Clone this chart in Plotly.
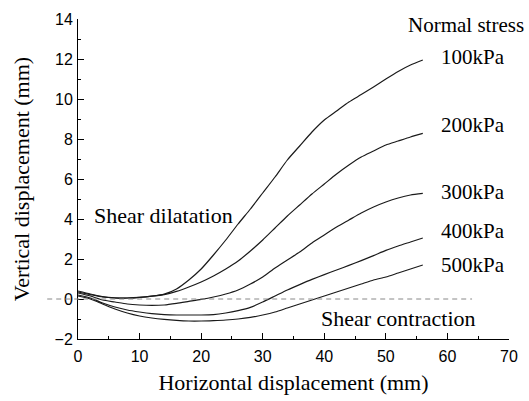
import plotly.graph_objects as go

# Horizontal displacement (mm) at which vertical displacement was sampled
x_mm = [0, 2, 4, 6, 8, 10, 12, 14, 16, 18, 20, 22, 24, 26, 28,
        30, 32, 34, 36, 38, 40, 42, 44, 46, 48, 50, 52, 54, 56]

# Vertical displacement (mm) for each normal stress
v_100 = [0.40, 0.25, 0.12, 0.06, 0.05, 0.08, 0.14, 0.24, 0.50, 0.95, 1.50, 2.20, 2.95, 3.75, 4.50,
         5.30, 6.10, 6.95, 7.65, 8.35, 8.95, 9.40, 9.85, 10.22, 10.60, 11.00, 11.38, 11.70, 11.95]
v_200 = [0.35, 0.22, 0.10, 0.05, 0.05, 0.08, 0.14, 0.22, 0.38, 0.60, 0.85, 1.15, 1.50, 1.90, 2.40,
         2.95, 3.55, 4.15, 4.70, 5.25, 5.75, 6.25, 6.70, 7.10, 7.40, 7.70, 7.90, 8.10, 8.28]
v_300 = [0.30, 0.15, -0.05, -0.15, -0.25, -0.30, -0.32, -0.30, -0.22, -0.12, -0.02, 0.10, 0.25, 0.45, 0.75,
         1.10, 1.55, 1.95, 2.35, 2.80, 3.20, 3.60, 3.95, 4.30, 4.60, 4.85, 5.05, 5.20, 5.28]
v_400 = [0.20, 0.05, -0.20, -0.40, -0.55, -0.65, -0.73, -0.78, -0.80, -0.80, -0.80, -0.78, -0.70, -0.58, -0.42,
         -0.15, 0.15, 0.45, 0.72, 0.98, 1.22, 1.45, 1.68, 1.92, 2.17, 2.43, 2.65, 2.85, 3.05]
v_500 = [0.15, 0.00, -0.25, -0.50, -0.70, -0.85, -0.95, -1.02, -1.07, -1.10, -1.10, -1.08, -1.05, -1.00, -0.92,
         -0.80, -0.65, -0.45, -0.25, -0.05, 0.15, 0.35, 0.55, 0.75, 0.95, 1.10, 1.30, 1.50, 1.70]

stress_labels = ["100kPa", "200kPa", "300kPa", "400kPa", "500kPa"]
series = [v_100, v_200, v_300, v_400, v_500]
label_y = [12.1, 8.7, 5.35, 3.42, 1.7]

x_ticks = [0, 10, 20, 30, 40, 50, 60, 70]
y_ticks = [-2, 0, 2, 4, 6, 8, 10, 12, 14]

SERIF = "Liberation Serif, Times New Roman, serif"
SANS = "Liberation Sans, Arial, sans-serif"

fig = go.Figure()

for name, vals in zip(stress_labels, series):
    fig.add_trace(go.Scatter(
        x=x_mm, y=vals, mode="lines", name=name,
        line=dict(color="#1a1a1a", width=1.2, shape="spline", smoothing=0.6),
        showlegend=False,
    ))

# zero reference line, running slightly past the y axis on the left
fig.add_shape(type="line", xref="paper", yref="y",
              x0=-5 / 70, x1=64 / 70, y0=0, y1=0,
              line=dict(color="#888888", width=1, dash="5px,4px"))

for name, ly in zip(stress_labels, label_y):
    fig.add_annotation(x=58.6, y=ly, text=name, showarrow=False,
                       xanchor="left", yanchor="middle",
                       font=dict(family=SERIF, size=21, color="black"))

fig.add_annotation(x=63.0, y=13.7, text="Normal stress", showarrow=False,
                   xanchor="center", yanchor="middle",
                   font=dict(family=SERIF, size=21, color="black"))
fig.add_annotation(x=2.2, y=4.2, text="Shear dilatation", showarrow=False,
                   xanchor="left", yanchor="middle",
                   font=dict(family=SERIF, size=22, color="black"))
fig.add_annotation(x=39.2, y=-0.95, text="Shear contraction", showarrow=False,
                   xanchor="left", yanchor="middle",
                   font=dict(family=SERIF, size=22, color="black"))

axis_common = dict(
    showline=True, linecolor="black", linewidth=1,
    ticks="inside", ticklen=6, tickwidth=1, tickcolor="black",
    showgrid=False, zeroline=False, mirror=False,
    tickfont=dict(family=SANS, size=16, color="black"),
)

fig.update_xaxes(
    range=[0, 70], tickvals=x_ticks, ticklabelstandoff=3,
    minor=dict(dtick=5, ticks="inside", ticklen=3, tickcolor="black", showgrid=False),
    title=dict(text="Horizontal displacement (mm)",
               font=dict(family=SERIF, size=22, color="black"), standoff=10),
    **axis_common,
)
fig.update_yaxes(
    range=[-2, 14], tickvals=y_ticks, ticklabelstandoff=1,
    minor=dict(dtick=1, ticks="inside", ticklen=3, tickcolor="black", showgrid=False),
    title=dict(text="Vertical displacement (mm)",
               font=dict(family=SERIF, size=22, color="black"), standoff=18),
    **axis_common,
)

fig.update_layout(
    width=529, height=401,
    margin=dict(l=78, r=20, t=19, b=62, autoexpand=False),
    plot_bgcolor="white", paper_bgcolor="white",
)

fig.write_html("out.html")
